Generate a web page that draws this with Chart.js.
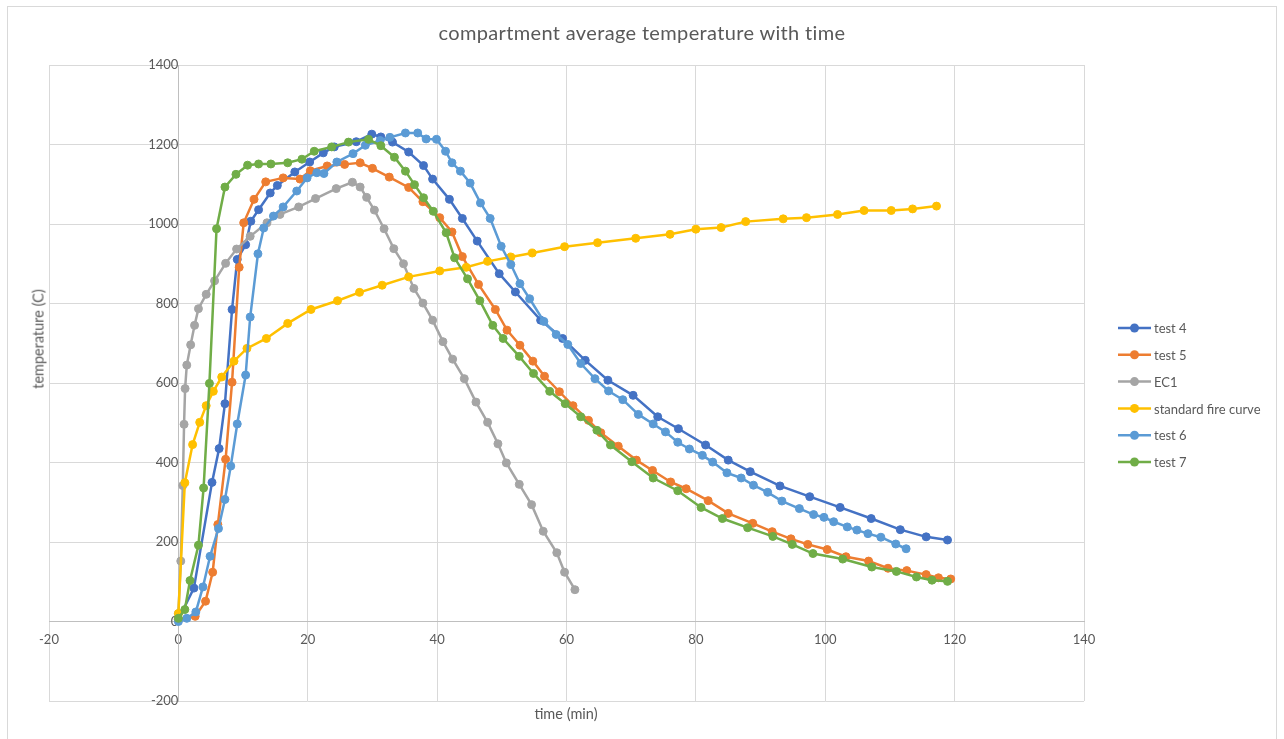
<!DOCTYPE html>
<html lang="en">
<head>
  <meta charset="UTF-8">
  <title>compartment average temperature with time</title>
  <script src="https://cdn.jsdelivr.net/npm/chart.js"></script>
  <style>
    html, body { margin: 0; padding: 0; background: #fff; overflow: hidden; }
    body { width: 1284px; height: 739px; position: relative; font-family: Lato, "Open Sans", sans-serif; color: #595959; }
    #frame { position: absolute; left: 7px; top: 6px; width: 1268px; height: 800px; border: 1px solid #d9d9d9; }
    #wrap { position: absolute; left: 0; top: 0; width: 1284px; height: 739px; }
    #title { position: absolute; left: 0; width: 1284px; top: 20px; text-align: center; font-size: 20px; letter-spacing: 0.35px; }
    #xtitle { position: absolute; left: 466px; width: 200px; top: 705px; text-align: center; font-size: 14.5px; }
    #ytitle { position: absolute; left: 38px; top: 339px; font-size: 14.5px; white-space: nowrap; transform: translate(-50%, -50%) rotate(-90deg); }
  </style>
</head>
<body>
  <div id="frame"></div>
  <div id="wrap"><canvas id="chart"></canvas></div>
  <div id="title">compartment average temperature with time</div>
  <div id="xtitle">time (min)</div>
  <div id="ytitle">temperature (C)</div>

  <script>
    // valeurs (temps en min, température en C)
    const test4X = [0, 2.4, 5.2, 6.3, 7.2, 8.3, 9.1, 10.4, 11.2, 12.4, 14.2, 15.3, 18.0, 20.3, 22.4, 24.1, 27.5, 29.9, 31.3, 33.1, 35.6, 37.9, 39.3, 41.9, 43.9, 46.2, 49.6, 52.1, 56.0, 59.4, 62.9, 66.4, 70.3, 74.1, 77.3, 81.5, 85.0, 88.4, 93.0, 97.6, 102.3, 107.1, 111.6, 115.6, 118.9];
    const test4Y = [5, 84, 350, 435, 548, 785, 911, 948, 1007, 1036, 1078, 1097, 1131, 1156, 1179, 1194, 1207, 1226, 1219, 1206, 1181, 1147, 1113, 1062, 1014, 957, 875, 829, 758, 712, 657, 607, 569, 515, 485, 444, 406, 377, 341, 314, 287, 259, 231, 213, 205];

    const test5X = [0, 2.6, 4.2, 5.3, 6.1, 7.3, 8.3, 9.4, 10.1, 11.7, 13.5, 16.2, 18.8, 20.4, 23.0, 25.7, 28.1, 30.0, 32.6, 35.6, 37.8, 40.4, 42.3, 43.9, 46.4, 49.0, 50.8, 52.8, 54.8, 56.6, 58.9, 61.0, 63.4, 65.3, 68.0, 70.8, 73.3, 76.1, 78.5, 81.9, 85.0, 88.8, 91.8, 94.7, 97.3, 100.3, 103.2, 106.7, 109.7, 112.6, 115.6, 117.5, 119.4];
    const test5Y = [5, 13, 51, 124, 244, 408, 602, 891, 1003, 1062, 1106, 1116, 1113, 1134, 1146, 1150, 1154, 1140, 1118, 1092, 1056, 1016, 980, 918, 848, 785, 733, 695, 655, 617, 578, 543, 506, 475, 441, 406, 380, 351, 334, 304, 272, 247, 226, 208, 194, 181, 163, 152, 134, 128, 118, 110, 107];

    const ec1X = [0, 0.37, 0.68, 0.88, 1.04, 1.3, 1.9, 2.5, 3.1, 4.3, 5.6, 7.3, 9.0, 11.1, 13.7, 15.7, 18.6, 21.2, 24.4, 26.9, 28.1, 29.1, 30.3, 31.8, 33.3, 34.8, 36.4, 37.8, 39.3, 40.9, 42.4, 44.2, 46.0, 47.8, 49.4, 50.7, 52.7, 54.6, 56.4, 58.5, 59.7, 61.3];
    const ec1Y = [20, 152, 342, 496, 586, 645, 696, 745, 787, 823, 857, 901, 937, 969, 1003, 1024, 1043, 1064, 1089, 1105, 1093, 1067, 1035, 988, 938, 900, 838, 801, 758, 704, 660, 611, 552, 501, 447, 399, 345, 294, 227, 173, 124, 80];

    const fireX = [0, 1.0, 2.2, 3.3, 4.3, 5.4, 6.7, 8.6, 10.6, 13.6, 16.9, 20.5, 24.6, 28.0, 31.5, 35.6, 40.4, 44.5, 47.8, 51.4, 54.7, 59.7, 64.8, 70.7, 76.0, 80.0, 83.9, 87.7, 93.5, 97.1, 101.9, 106.0, 110.2, 113.5, 117.2];
    const fireY = [20, 349, 445, 501, 543, 579, 615, 655, 687, 712, 750, 785, 807, 828, 846, 867, 882, 891, 906, 917, 927, 943, 953, 964, 974, 987, 991, 1006, 1013, 1016, 1024, 1034, 1034, 1038, 1045];

    const test6X = [0, 1.3, 2.7, 3.8, 4.9, 6.2, 7.2, 8.1, 9.1, 10.4, 11.1, 12.3, 13.2, 14.7, 16.2, 18.3, 19.9, 21.4, 22.5, 24.5, 27.0, 28.9, 31.2, 32.7, 35.1, 37.0, 38.3, 39.9, 41.3, 42.3, 43.6, 45.1, 46.7, 48.2, 49.9, 51.4, 52.8, 54.3, 56.5, 58.4, 60.2, 62.2, 64.4, 66.5, 68.7, 71.1, 73.4, 75.3, 77.2, 79.0, 81.0, 82.6, 84.8, 87.0, 88.9, 91.1, 93.3, 96.0, 98.2, 99.8, 101.3, 103.4, 104.9, 106.6, 108.6, 110.9, 112.5];
    const test6Y = [0, 8, 24, 87, 164, 234, 307, 391, 497, 620, 766, 925, 990, 1020, 1043, 1083, 1116, 1129, 1127, 1156, 1177, 1198, 1210, 1218, 1229, 1229, 1214, 1213, 1183, 1154, 1133, 1103, 1053, 1014, 944, 898, 850, 812, 755, 722, 697, 649, 611, 580, 558, 521, 497, 477, 451, 434, 418, 401, 374, 361, 343, 325, 303, 284, 269, 262, 251, 238, 230, 221, 212, 195, 183];

    const test7X = [0, 1.0, 1.8, 3.1, 3.9, 4.8, 5.9, 7.2, 8.9, 10.7, 12.4, 14.3, 16.9, 19.1, 21.0, 23.7, 26.3, 29.4, 31.3, 33.4, 35.1, 36.5, 37.9, 39.4, 41.4, 42.7, 44.7, 46.6, 48.6, 50.2, 52.7, 54.9, 57.4, 59.8, 62.2, 64.7, 66.8, 70.1, 73.4, 77.2, 80.8, 84.1, 88.0, 91.9, 94.9, 98.1, 102.7, 107.2, 111.0, 114.1, 116.5, 118.9];
    const test7Y = [8, 30, 103, 192, 336, 599, 988, 1093, 1125, 1148, 1151, 1151, 1154, 1163, 1183, 1194, 1206, 1213, 1197, 1168, 1133, 1099, 1066, 1032, 978, 915, 862, 807, 745, 712, 667, 624, 579, 548, 515, 481, 444, 402, 361, 329, 287, 259, 236, 214, 194, 171, 157, 137, 126, 112, 104, 101];

    const seriesNames = ["test 4", "test 5", "EC1", "standard fire curve", "test 6", "test 7"];
    const seriesColors = ["#4472C4", "#ED7D31", "#A5A5A5", "#FFC000", "#5B9BD5", "#70AD47"];
    const seriesX = [test4X, test5X, ec1X, fireX, test6X, test7X];
    const seriesY = [test4Y, test5Y, ec1Y, fireY, test6Y, test7Y];

    const xTicks = [-20, 0, 20, 40, 60, 80, 100, 120, 140];
    const yTicks = [-200, 0, 200, 400, 600, 800, 1000, 1200, 1400];

    const datasets = seriesNames.map((name, i) => ({
      label: name,
      data: seriesX[i].map((x, j) => ({ x: x, y: seriesY[i][j] })),
      showLine: true,
      borderColor: seriesColors[i],
      backgroundColor: seriesColors[i],
      pointBackgroundColor: seriesColors[i],
      pointBorderColor: seriesColors[i],
      borderWidth: 2.5,
      pointRadius: 4,
      pointBorderWidth: 1,
      tension: 0,
      order: seriesNames.length - i   // la dernière série dessinée au-dessus
    }));

    // légende à droite, dessinée comme dans Excel (trait + marqueur)
    const legendExcel = {
      id: "legendExcel",
      afterDraw(chart) {
        const ctx = chart.ctx;
        ctx.save();
        ctx.font = "13px Lato, 'Open Sans', sans-serif";
        ctx.textBaseline = "middle";
        ctx.textAlign = "left";
        chart.data.datasets.forEach((ds, i) => {
          const y = 328 + i * 26.8;
          ctx.strokeStyle = ds.borderColor;
          ctx.lineWidth = 2.5;
          ctx.beginPath();
          ctx.moveTo(1118, y);
          ctx.lineTo(1151, y);
          ctx.stroke();
          ctx.fillStyle = ds.borderColor;
          ctx.beginPath();
          ctx.arc(1134.5, y, 4.5, 0, Math.PI * 2);
          ctx.fill();
          ctx.fillStyle = "#595959";
          ctx.fillText(ds.label, 1154, y + 1);
        });
        ctx.restore();
      }
    };

    new Chart(document.getElementById("chart"), {
      type: "scatter",
      data: { datasets: datasets },
      options: {
        responsive: true,
        maintainAspectRatio: false,
        animation: false,
        layout: { padding: { left: 49, top: 65, right: 200, bottom: 38 } },
        plugins: {
          legend: { display: false },
          tooltip: { enabled: false }
        },
        scales: {
          x: {
            type: "linear",
            min: -20,
            max: 140,
            position: { y: 0 },
            afterBuildTicks: (axis) => { axis.ticks = xTicks.map(v => ({ value: v })); },
            grid: { color: "#d9d9d9", lineWidth: 1, drawTicks: false },
            border: { color: "#bfbfbf", width: 1 },
            ticks: { color: "#595959", font: { family: "Lato", size: 13 }, padding: 11, maxRotation: 0, callback: (v) => String(v) }
          },
          y: {
            type: "linear",
            min: -200,
            max: 1400,
            position: { x: 0 },
            afterBuildTicks: (axis) => { axis.ticks = yTicks.map(v => ({ value: v })); },
            grid: { color: "#d9d9d9", lineWidth: 1, drawTicks: false },
            border: { color: "#bfbfbf", width: 1 },
            ticks: { color: "#595959", font: { family: "Lato", size: 13 }, padding: 13, callback: (v) => String(v) }
          }
        }
      },
      plugins: [legendExcel]
    });
  </script>
</body>
</html>
